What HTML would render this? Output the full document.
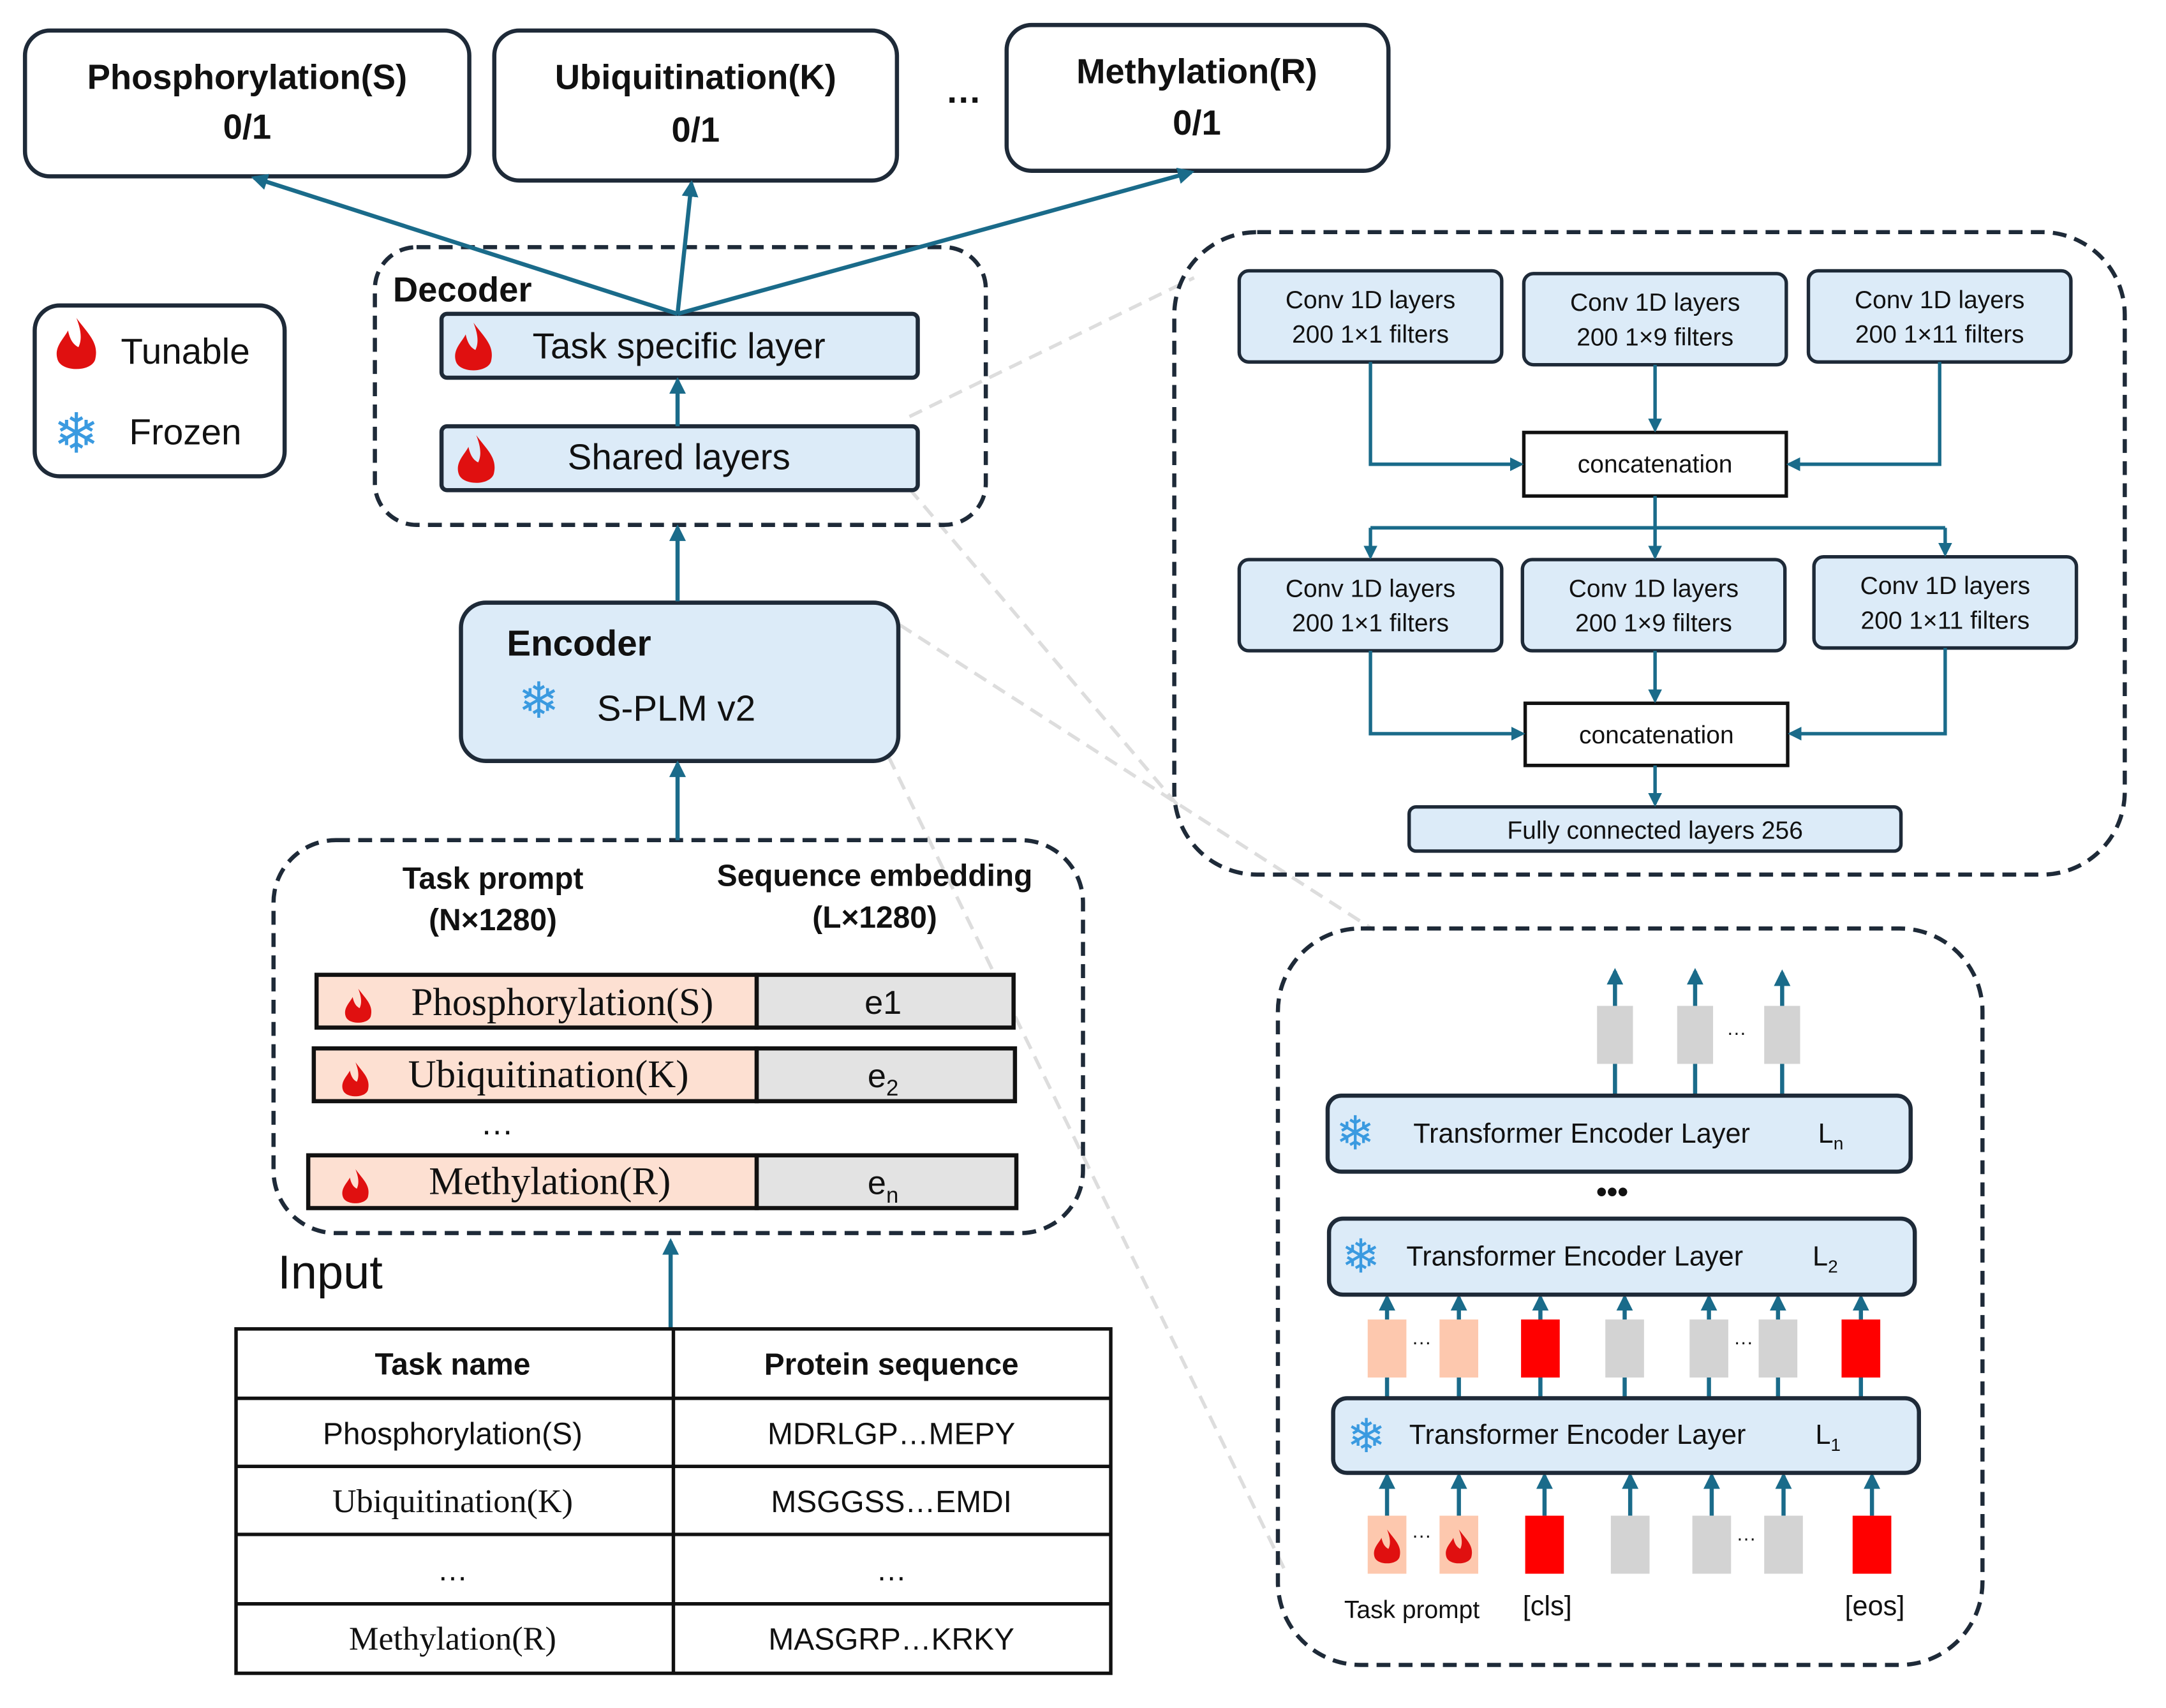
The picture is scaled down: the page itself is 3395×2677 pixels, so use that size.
<!DOCTYPE html>
<html><head><meta charset="utf-8"><style>
html,body{margin:0;padding:0;background:#fff;}
svg{display:block;}
text{font-family:"Liberation Sans","DejaVu Sans",sans-serif;fill:#111;}
.serif{font-family:"Liberation Serif",serif;}
.b{font-weight:bold;}
.sf{fill:#3a9ae0;}
</style></head><body>
<svg width="3395" height="2677" viewBox="0 0 1560 1230" preserveAspectRatio="none" xmlns="http://www.w3.org/2000/svg">
<defs>
<marker id="ar" viewBox="0 0 10 10" refX="8" refY="5" markerWidth="4" markerHeight="4" orient="auto"><path d="M0,0L10,5L0,10z" fill="#1a6b8a"/></marker>
<g id="flame"><path d="M0,-14 C6,-6 11,-2 9,6 C7,12 -7,12 -9,6 C-11,0 -6,-4 -4,-8 C-3,-3 -1,-1 1,0 C3,-4 2,-9 0,-14z" fill="#e01010"/></g>
</defs>
<g fill="none" stroke="#ddd" stroke-width="2.5" stroke-dasharray="10,6">
<line x1="655" y1="300" x2="860" y2="200"/>
<line x1="655" y1="352" x2="850" y2="582"/>
<line x1="648" y1="450" x2="990" y2="670"/>
<line x1="640" y1="545" x2="925" y2="1130"/>
</g>
<g stroke="#1e2a38" stroke-width="3" fill="#fff">
<rect x="18" y="22" width="320" height="105" rx="18"/>
<rect x="356" y="22" width="290" height="108" rx="18"/>
<rect x="725" y="18" width="275" height="105" rx="18"/>
<rect x="25" y="220" width="180" height="123" rx="18"/>
</g>
<text x="178" y="64" font-size="25" class="b" text-anchor="middle">Phosphorylation(S)</text>
<text x="178" y="100" font-size="25" class="b" text-anchor="middle">0/1</text>
<text x="501" y="64" font-size="25" class="b" text-anchor="middle">Ubiquitination(K)</text>
<text x="501" y="102" font-size="25" class="b" text-anchor="middle">0/1</text>
<text x="862" y="60" font-size="25" class="b" text-anchor="middle">Methylation(R)</text>
<text x="862" y="97" font-size="25" class="b" text-anchor="middle">0/1</text>
<text x="694" y="74" font-size="26" class="b" text-anchor="middle">…</text>
<use href="#flame" transform="translate(55,250) scale(1.5)"/>
<text x="87" y="262" font-size="26">Tunable</text>
<text x="55" y="326" font-size="40" class="sf" text-anchor="middle">❄</text>
<text x="93" y="320" font-size="26">Frozen</text>
<g fill="none" stroke="#1e2a38" stroke-width="3" stroke-dasharray="10,6">
<rect x="270" y="178" width="440" height="200" rx="30"/>
<rect x="197" y="605" width="583" height="283" rx="45"/>
</g>
<text x="283" y="217" font-size="25" class="b">Decoder</text>
<g stroke="#1e2a38" stroke-width="3" fill="#dcebf8">
<rect x="318" y="226" width="343" height="46" rx="4"/>
<rect x="318" y="307" width="343" height="46" rx="4"/>
<rect x="332" y="434" width="315" height="114" rx="18"/>
</g>
<use href="#flame" transform="translate(341,252) scale(1.4)"/>
<use href="#flame" transform="translate(343,333) scale(1.4)"/>
<text x="489" y="258" font-size="26" text-anchor="middle">Task specific layer</text>
<text x="489" y="338" font-size="26" text-anchor="middle">Shared layers</text>
<text x="365" y="472" font-size="26" class="b">Encoder</text>
<text x="388" y="517" font-size="36" class="sf" text-anchor="middle">❄</text>
<text x="430" y="519" font-size="26">S-PLM v2</text>
<g stroke="#1a6b8a" stroke-width="3" fill="none" marker-end="url(#ar)">
<line x1="488" y1="226" x2="183" y2="128"/>
<line x1="488" y1="226" x2="498" y2="132"/>
<line x1="488" y1="226" x2="858" y2="124"/>
<line x1="488" y1="307" x2="488" y2="274"/>
<line x1="488" y1="433" x2="488" y2="380"/>
<line x1="488" y1="605" x2="488" y2="550"/>
<line x1="483" y1="957" x2="483" y2="894"/>
</g>
<text x="355" y="640" font-size="22" class="b" text-anchor="middle">Task prompt</text>
<text x="355" y="670" font-size="22" class="b" text-anchor="middle">(N×1280)</text>
<text x="630" y="638" font-size="22" class="b" text-anchor="middle">Sequence embedding</text>
<text x="630" y="668" font-size="22" class="b" text-anchor="middle">(L×1280)</text>
<g stroke="#111" stroke-width="3">
<rect x="228" y="702" width="317" height="38" fill="#fde0d2"/>
<rect x="545" y="702" width="185" height="38" fill="#e3e3e3"/>
<rect x="226" y="755" width="319" height="38" fill="#fde0d2"/>
<rect x="545" y="755" width="186" height="38" fill="#e3e3e3"/>
<rect x="222" y="832" width="323" height="38" fill="#fde0d2"/>
<rect x="545" y="832" width="187" height="38" fill="#e3e3e3"/>
</g>
<use href="#flame" x="258" y="726"/>
<use href="#flame" x="256" y="779"/>
<use href="#flame" x="256" y="856"/>
<text x="405" y="731" font-size="28" class="serif" text-anchor="middle">Phosphorylation(S)</text>
<text x="395" y="783" font-size="28" class="serif" text-anchor="middle">Ubiquitination(K)</text>
<text x="396" y="860" font-size="28" class="serif" text-anchor="middle">Methylation(R)</text>
<text x="636" y="730" font-size="24" text-anchor="middle">e1</text>
<text x="636" y="783" font-size="24" text-anchor="middle">e<tspan font-size="16" dy="6">2</tspan></text>
<text x="636" y="860" font-size="24" text-anchor="middle">e<tspan font-size="16" dy="6">n</tspan></text>
<text x="358" y="817" font-size="24" text-anchor="middle">…</text>
<text x="200" y="928" font-size="34">Input</text>
<g transform="translate(0,-5)">
<g stroke="#111" stroke-width="2.5" fill="none">
<rect x="170" y="962" width="630" height="248"/>
<line x1="485" y1="962" x2="485" y2="1210"/>
<line x1="170" y1="1012" x2="800" y2="1012"/>
<line x1="170" y1="1061" x2="800" y2="1061"/>
<line x1="170" y1="1110" x2="800" y2="1110"/>
<line x1="170" y1="1160" x2="800" y2="1160"/>
</g>
<text x="326" y="995" font-size="22" class="b" text-anchor="middle">Task name</text>
<text x="642" y="995" font-size="22" class="b" text-anchor="middle">Protein sequence</text>
<text x="326" y="1045" font-size="22" text-anchor="middle">Phosphorylation(S)</text>
<text x="642" y="1045" font-size="22" text-anchor="middle">MDRLGP…MEPY</text>
<text x="326" y="1094" font-size="24" class="serif" text-anchor="middle">Ubiquitination(K)</text>
<text x="642" y="1094" font-size="22" text-anchor="middle">MSGGSS…EMDI</text>
<text x="326" y="1143" font-size="22" text-anchor="middle">…</text>
<text x="642" y="1143" font-size="22" text-anchor="middle">…</text>
<text x="326" y="1193" font-size="24" class="serif" text-anchor="middle">Methylation(R)</text>
<text x="642" y="1193" font-size="22" text-anchor="middle">MASGRP…KRKY</text>
</g>
<g transform="scale(0.995)">
<g fill="none" stroke="#1e2a38" stroke-width="3" stroke-dasharray="10,6">
<rect x="850" y="168" width="688" height="465" rx="60"/>
<rect x="925" y="672" width="510" height="533" rx="60"/>
</g>
<g stroke="#1e2a38" stroke-width="2.5" fill="#dcebf8">
<rect x="897" y="196" width="190" height="66" rx="7"/>
<rect x="1103" y="198" width="190" height="66" rx="7"/>
<rect x="1309" y="196" width="190" height="66" rx="7"/>
<rect x="897" y="405" width="190" height="66" rx="7"/>
<rect x="1102" y="405" width="190" height="66" rx="7"/>
<rect x="1313" y="403" width="190" height="66" rx="7"/>
<rect x="1020" y="584" width="356" height="32" rx="5"/>
</g>
<g stroke="#111" stroke-width="2.5" fill="#fff">
<rect x="1103" y="313" width="190" height="46"/>
<rect x="1104" y="509" width="190" height="45"/>
</g>
<g font-size="18" text-anchor="middle">
<text x="992" y="223">Conv 1D layers</text><text x="992" y="248">200 1×1 filters</text>
<text x="1198" y="225">Conv 1D layers</text><text x="1198" y="250">200 1×9 filters</text>
<text x="1404" y="223">Conv 1D layers</text><text x="1404" y="248">200 1×11 filters</text>
<text x="992" y="432">Conv 1D layers</text><text x="992" y="457">200 1×1 filters</text>
<text x="1197" y="432">Conv 1D layers</text><text x="1197" y="457">200 1×9 filters</text>
<text x="1408" y="430">Conv 1D layers</text><text x="1408" y="455">200 1×11 filters</text>
<text x="1198" y="342">concatenation</text>
<text x="1199" y="538">concatenation</text>
<text x="1198" y="607">Fully connected layers 256</text>
</g>
<g stroke="#1a6b8a" stroke-width="2.5" fill="none">
<polyline points="992,262 992,336 1101,336" marker-end="url(#ar)"/>
<polyline points="1404,262 1404,336 1295,336" marker-end="url(#ar)"/>
<line x1="1198" y1="264" x2="1198" y2="311" marker-end="url(#ar)"/>
<line x1="1198" y1="359" x2="1198" y2="382"/>
<line x1="992" y1="382" x2="1408" y2="382"/>
<line x1="992" y1="382" x2="992" y2="403" marker-end="url(#ar)"/>
<line x1="1198" y1="382" x2="1198" y2="403" marker-end="url(#ar)"/>
<line x1="1408" y1="382" x2="1408" y2="401" marker-end="url(#ar)"/>
<polyline points="992,471 992,531 1102,531" marker-end="url(#ar)"/>
<polyline points="1408,469 1408,531 1296,531" marker-end="url(#ar)"/>
<line x1="1198" y1="471" x2="1198" y2="507" marker-end="url(#ar)"/>
<line x1="1198" y1="554" x2="1198" y2="582" marker-end="url(#ar)"/>
</g>
<g stroke="#1a6b8a" stroke-width="3" fill="none" marker-end="url(#ar)">
<line x1="1169" y1="793" x2="1169" y2="703"/><line x1="1227" y1="793" x2="1227" y2="703"/><line x1="1290" y1="793" x2="1290" y2="704"/>
<line x1="1004" y1="1012" x2="1004" y2="939"/><line x1="1056" y1="1012" x2="1056" y2="939"/><line x1="1115" y1="1012" x2="1115" y2="939"/>
<line x1="1176" y1="1012" x2="1176" y2="939"/><line x1="1237" y1="1012" x2="1237" y2="939"/><line x1="1287" y1="1012" x2="1287" y2="939"/><line x1="1347" y1="1012" x2="1347" y2="939"/>
<line x1="1004" y1="1097" x2="1004" y2="1068"/><line x1="1056" y1="1097" x2="1056" y2="1068"/><line x1="1118" y1="1097" x2="1118" y2="1068"/>
<line x1="1180" y1="1097" x2="1180" y2="1068"/><line x1="1239" y1="1097" x2="1239" y2="1068"/><line x1="1291" y1="1097" x2="1291" y2="1068"/><line x1="1355" y1="1097" x2="1355" y2="1068"/>
</g>
<g fill="#d3d3d3">
<rect x="1156" y="728" width="26" height="42"/><rect x="1214" y="728" width="26" height="42"/><rect x="1277" y="728" width="26" height="42"/>
<rect x="1162" y="955" width="28" height="42"/><rect x="1223" y="955" width="28" height="42"/><rect x="1273" y="955" width="28" height="42"/>
<rect x="1166" y="1097" width="28" height="42"/><rect x="1225" y="1097" width="28" height="42"/><rect x="1277" y="1097" width="28" height="42"/>
</g>
<g fill="#fdc8ae">
<rect x="990" y="955" width="28" height="42"/><rect x="1042" y="955" width="28" height="42"/>
<rect x="990" y="1097" width="28" height="42"/><rect x="1042" y="1097" width="28" height="42"/>
</g>
<g fill="#ff0000">
<rect x="1101" y="955" width="28" height="42"/><rect x="1333" y="955" width="28" height="42"/>
<rect x="1104" y="1097" width="28" height="42"/><rect x="1341" y="1097" width="28" height="42"/>
</g>
<use href="#flame" x="1004" y="1121"/>
<use href="#flame" x="1056" y="1121"/>
<g font-size="14" text-anchor="middle">
<text x="1257" y="752">···</text><text x="1029" y="976">···</text><text x="1262" y="976">···</text>
<text x="1029" y="1116">···</text><text x="1264" y="1118">···</text>
</g>
<g stroke="#1e2a38" stroke-width="3" fill="#dcebf8">
<rect x="961" y="793" width="422" height="55" rx="10"/>
<rect x="962" y="882" width="424" height="55" rx="10"/>
<rect x="965" y="1012" width="424" height="54" rx="10"/>
</g>
<g font-size="20">
<text x="1023" y="827">Transformer Encoder Layer</text><text x="1316" y="827">L<tspan font-size="13" dy="5">n</tspan></text>
<text x="1018" y="916">Transformer Encoder Layer</text><text x="1312" y="916">L<tspan font-size="13" dy="5">2</tspan></text>
<text x="1020" y="1045">Transformer Encoder Layer</text><text x="1314" y="1045">L<tspan font-size="13" dy="5">1</tspan></text>
</g>
<g font-size="34" text-anchor="middle">
<text x="981" y="832" class="sf">❄</text><text x="985" y="921" class="sf">❄</text><text x="989" y="1051" class="sf">❄</text>
</g>
<text x="1167" y="870" font-size="22" class="b" text-anchor="middle">•••</text>
<text x="1022" y="1171" font-size="18" text-anchor="middle">Task prompt</text>
<text x="1120" y="1169" font-size="20" text-anchor="middle">[cls]</text>
<text x="1357" y="1169" font-size="20" text-anchor="middle">[eos]</text>
</g>
</svg>
</body></html>
